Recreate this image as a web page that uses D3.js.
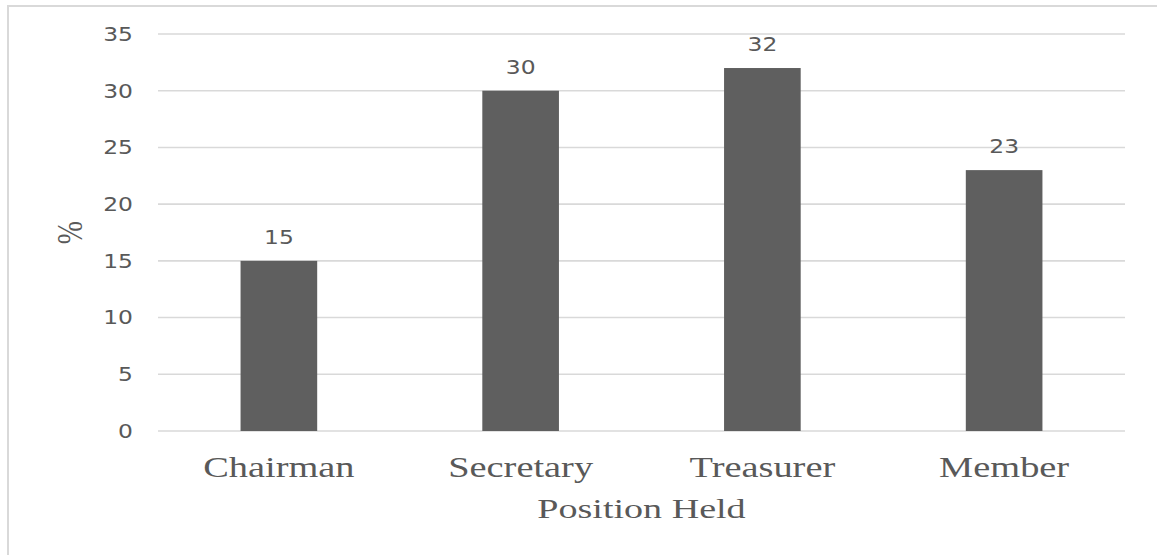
<!DOCTYPE html>
<html>
<head>
<meta charset="utf-8">
<script src="https://cdn.jsdelivr.net/npm/d3@7"></script>
<style>
  html, body { margin: 0; padding: 0; background: #fff; }
  svg { display: block; }
</style>
</head>
<body>
<svg id="chart" width="1157" height="555"></svg>
<script>
// Share of respondents by position held
const categories = ["Chairman", "Secretary", "Treasurer", "Member"];
const percentValues = [15, 30, 32, 23];
const yTicks = [0, 5, 10, 15, 20, 25, 30, 35];
const xTitle = "Position Held";
const yTitle = "%";

const W = 1157, H = 555;
const plot = { left: 158, right: 1125, top: 34, bottom: 431 };
const textColor = "#595959";
const gridColor = "#d9d9d9";
const barColor = "#5f5f5f";
const sansFont = "'DejaVu Sans', Verdana, sans-serif";
const serifFont = "'Liberation Serif', 'Times New Roman', serif";
const sansStretch = 1.2;   // glyphs are drawn wider than tall
const serifStretch = 1.28;
const titleStretch = 1.36;

const svg = d3.select("#chart");

// outer chart frame (runs past the right and bottom edges)
svg.append("rect")
  .attr("x", 8).attr("y", 6)
  .attr("width", W + 20).attr("height", H + 20)
  .attr("fill", "none")
  .attr("stroke", gridColor)
  .attr("stroke-width", 2);

const x = d3.scaleBand()
  .domain(categories)
  .range([plot.left, plot.right])
  .padding(0);

const y = d3.scaleLinear()
  .domain([0, 35])
  .range([plot.bottom, plot.top]);

const barFrac = 0.317;

// horizontal gridlines
svg.append("g")
  .selectAll("line")
  .data(yTicks)
  .join("line")
  .attr("x1", plot.left).attr("x2", plot.right)
  .attr("y1", d => y(d)).attr("y2", d => y(d))
  .attr("stroke", gridColor)
  .attr("stroke-width", 1.6);

// y tick labels
svg.append("g")
  .selectAll("text")
  .data(yTicks)
  .join("text")
  .attr("transform", d => `translate(133,${y(d)}) scale(${sansStretch},1)`)
  .attr("text-anchor", "end")
  .attr("dominant-baseline", "central")
  .attr("font-family", sansFont)
  .attr("font-size", 19.5)
  .attr("fill", textColor)
  .text(d => d);

// bars
const data = categories.map((c, i) => ({ cat: c, val: percentValues[i] }));
const bw = x.bandwidth() * barFrac;
svg.append("g")
  .selectAll("rect")
  .data(data)
  .join("rect")
  .attr("x", d => x(d.cat) + (x.bandwidth() - bw) / 2)
  .attr("y", d => y(d.val))
  .attr("width", bw)
  .attr("height", d => y(0) - y(d.val))
  .attr("fill", barColor);

// value labels above bars
svg.append("g")
  .selectAll("text")
  .data(data)
  .join("text")
  .attr("transform", d => `translate(${x(d.cat) + x.bandwidth() / 2},${y(d.val) - 17}) scale(${sansStretch},1)`)
  .attr("text-anchor", "middle")
  .attr("font-family", sansFont)
  .attr("font-size", 19.5)
  .attr("fill", textColor)
  .text(d => d.val);

// category labels
svg.append("g")
  .selectAll("text")
  .data(categories)
  .join("text")
  .attr("transform", d => `translate(${x(d) + x.bandwidth() / 2},477) scale(${serifStretch},1)`)
  .attr("text-anchor", "middle")
  .attr("font-family", serifFont)
  .attr("font-size", 30)
  .attr("fill", textColor)
  .text(d => d);

// axis titles
svg.append("text")
  .attr("transform", `translate(${(plot.left + plot.right) / 2},518) scale(${titleStretch},1)`)
  .attr("text-anchor", "middle")
  .attr("font-family", serifFont)
  .attr("font-size", 28)
  .attr("fill", textColor)
  .text(xTitle);

svg.append("text")
  .attr("transform", `translate(70,${(plot.top + plot.bottom) / 2}) rotate(-90) scale(1,${serifStretch})`)
  .attr("text-anchor", "middle")
  .attr("dominant-baseline", "central")
  .attr("font-family", serifFont)
  .attr("font-size", 28)
  .attr("fill", textColor)
  .text(yTitle);
</script>
</body>
</html>
